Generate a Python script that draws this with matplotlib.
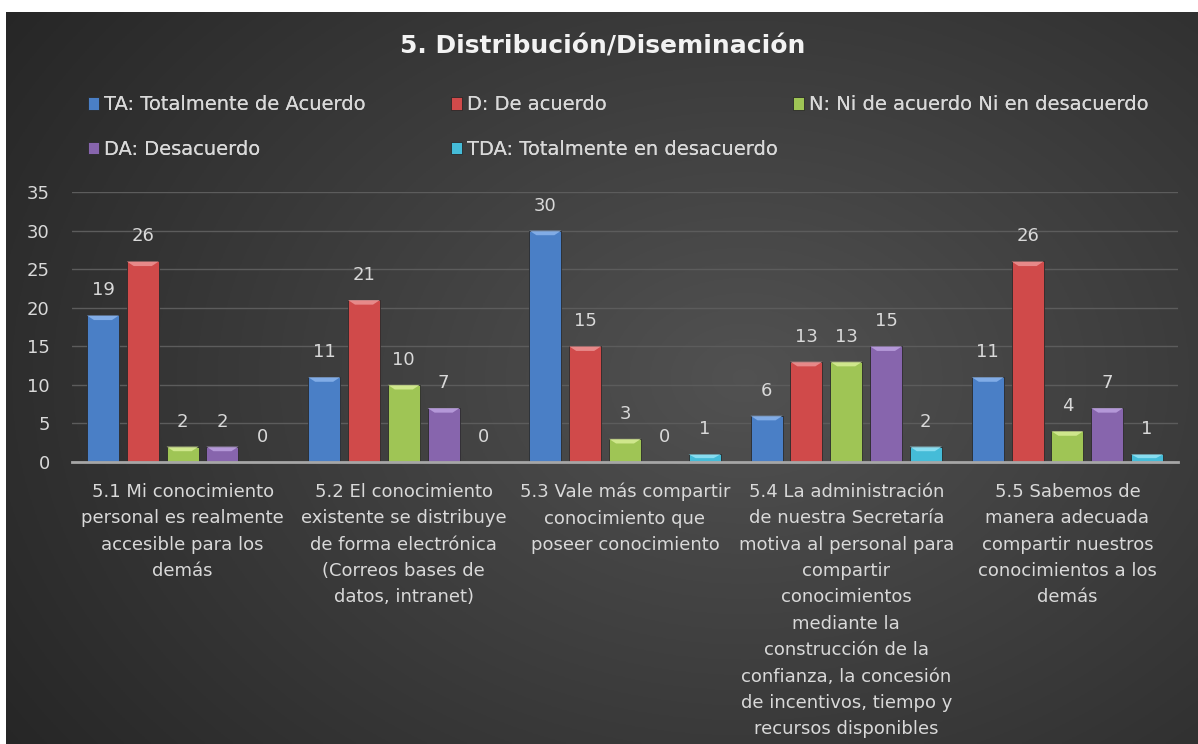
import numpy as np
import matplotlib
matplotlib.use("Agg")
import matplotlib.pyplot as plt
from matplotlib.patches import Polygon

plt.rcParams['font.family'] = ['DejaVu Sans']

title = "5. Distribución/Diseminación"
categories = [
    "5.1 Mi conocimiento\npersonal es realmente\naccesible para los\ndemás",
    "5.2 El conocimiento\nexistente se distribuye\nde forma electrónica\n(Correos bases de\ndatos, intranet)",
    "5.3 Vale más compartir\nconocimiento que\nposeer conocimiento",
    "5.4 La administración\nde nuestra Secretaría\nmotiva al personal para\ncompartir\nconocimientos\nmediante la\nconstrucción de la\nconfianza, la concesión\nde incentivos, tiempo y\nrecursos disponibles",
    "5.5 Sabemos de\nmanera adecuada\ncompartir nuestros\nconocimientos a los\ndemás",
]
series_names = [
    "TA: Totalmente de Acuerdo",
    "D: De acuerdo",
    "N: Ni de acuerdo Ni en desacuerdo",
    "DA: Desacuerdo",
    "TDA: Totalmente en desacuerdo",
]
TA = [19, 11, 30, 6, 11]
D = [26, 21, 15, 13, 26]
N = [2, 10, 3, 13, 4]
DA = [2, 7, 0, 15, 7]
TDA = [0, 0, 1, 2, 1]
series = [TA, D, N, DA, TDA]
colors = ["#4a7fc6", "#d04a4a", "#9fc555", "#8765ad", "#45bcd8"]
light = ["#8fb8ef", "#ee9a9a", "#dcf09a", "#c0a6e3", "#9ae6f7"]
yticks = [0, 5, 10, 15, 20, 25, 30, 35]

W, H = 1198, 744
fig = plt.figure(figsize=(W / 100, H / 100), dpi=100)
fig.patch.set_facecolor("white")

# background gradient panel
bg = fig.add_axes([6 / W, 0, 1 - 6 / W, 1 - 12 / H])
yy, xx = np.mgrid[0:1:300j, 0:1:500j]
r = np.sqrt(((xx - 0.62) / 0.75) ** 2 + ((yy - 0.5) / 0.9) ** 2)
v = np.clip(0.32 - 0.17 * r, 0.13, 0.33)
img = np.dstack([v, v, v])
bg.imshow(img, aspect="auto", extent=[0, 1, 0, 1], origin="lower")
bg.set_axis_off()

ax = fig.add_axes([72 / W, (H - 462) / H, (1178 - 72) / W, (462 - 192) / H])
ax.patch.set_alpha(0)

n = len(series)
pitch = 0.18
bw = 0.145
x = np.arange(len(categories))
handles = []
for i, (vals, c, lc, name) in enumerate(zip(series, colors, light, series_names)):
    xs = x + (i - (n - 1) / 2) * pitch
    bars = ax.bar(xs, vals, width=bw, color=c, edgecolor="#2a2a2a", linewidth=0.6, label=name, zorder=3)
    handles.append(bars)
    for b, val in zip(bars, vals):
        bx, bwid, bh = b.get_x(), b.get_width(), b.get_height()
        if bh > 0:
            d = min(0.6, bh * 0.5)
            inset = bwid * 0.22
            poly = Polygon([(bx, bh), (bx + bwid, bh), (bx + bwid - inset, bh - d), (bx + inset, bh - d)],
                           closed=True, facecolor=lc, edgecolor="none", alpha=0.8, zorder=4)
            ax.add_patch(poly)
        ax.annotate(str(val), (bx + bwid / 2, bh), xytext=(0, 11.5), textcoords="offset points",
                    ha="center", va="bottom", color="#d9d9d9", fontsize=13)

ax.set_ylim(0, 35)
ax.set_xlim(-0.5, len(categories) - 0.5)
ax.set_yticks(yticks)
ax.set_xticks(x)
ax.set_xticklabels(categories, fontsize=12.5, color="#d9d9d9", linespacing=1.6)
ax.tick_params(axis="both", length=0, colors="#d9d9d9", labelsize=13)
ax.tick_params(axis="x", pad=15)
ax.tick_params(axis="y", pad=16)
ax.yaxis.grid(True, color="#5c5c5c", linewidth=1, zorder=0)
for s in ["top", "right", "left"]:
    ax.spines[s].set_visible(False)
ax.spines["bottom"].set_color("#a6a6a6")
ax.spines["bottom"].set_linewidth(2)
ax.spines["bottom"].set_zorder(5)

fig.text(603 / W, 1 - 47 / H, title, ha="center", va="center", fontsize=18, fontweight="bold",
         color="#f2f2f2")

# legend: three columns placed like the reference
columns = [([0, 3], 70), ([1, 4], 433), ([2], 775)]
for idx, xpx in columns:
    lg = fig.legend([handles[i] for i in idx], [series_names[i] for i in idx], ncol=1,
                    loc="upper left", bbox_to_anchor=(xpx / W, 1 - 78 / H), frameon=False,
                    fontsize=14, labelcolor="#d9d9d9", handlelength=0.6, handleheight=0.6,
                    handletextpad=0.25, labelspacing=1.3)
    fig.add_artist(lg)

fig.savefig("out.png", dpi=100, facecolor="white")
